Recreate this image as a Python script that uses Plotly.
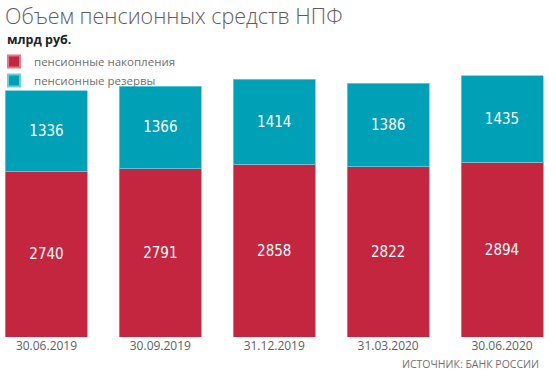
import plotly.graph_objects as go

dates = ["30.06.2019", "30.09.2019", "31.12.2019", "31.03.2020", "30.06.2020"]
nakopleniya = [2740, 2791, 2858, 2822, 2894]
rezervy = [1336, 1366, 1414, 1386, 1435]
series_names = ["пенсионные накопления", "пенсионные резервы"]
title_text = "Объем пенсионных средств НПФ"
unit_text = "млрд руб."
source_text = "ИСТОЧНИК: БАНК РОССИИ"

RED = "#C4263F"
CYAN = "#00A0B7"

W, H = 556, 380
MT, MB = 60, 43
PH = H - MT - MB


def py(y):
    return (H - MB - y) / PH


def px(x):
    return x / W


fig = go.Figure()
fig.add_trace(go.Bar(
    x=dates, y=nakopleniya, name=series_names[0],
    marker=dict(color=RED, line=dict(color="#E07A8A", width=0.8)),
    text=nakopleniya, textposition="inside", insidetextanchor="middle",
    textfont=dict(color="white", size=15, family="DejaVu Sans Condensed"),
))
fig.add_trace(go.Bar(
    x=dates, y=rezervy, name=series_names[1],
    marker=dict(color=CYAN, line=dict(color="#6CCEDC", width=0.8)),
    text=rezervy, textposition="inside", insidetextanchor="middle",
    textfont=dict(color="white", size=15, family="DejaVu Sans Condensed"),
))

fig.update_layout(
    width=W, height=H,
    barmode="stack", bargap=0.28,
    margin=dict(l=0, r=0, t=MT, b=MB, autoexpand=False),
    paper_bgcolor="white", plot_bgcolor="white",
    showlegend=True,
    legend=dict(
        x=px(-6), y=py(47), xanchor="left", yanchor="top",
        traceorder="normal", orientation="v",
        font=dict(family="Open Sans", size=11.5, color="#707070"),
        bgcolor="rgba(0,0,0,0)", itemsizing="constant",
        tracegroupgap=0,
    ),
    xaxis=dict(
        range=[-0.408, 4.474], showgrid=False, zeroline=False,
        showline=False, ticks="", automargin=False,
        tickfont=dict(family="Open Sans", size=12, color="#606060"),
        fixedrange=True,
    ),
    yaxis=dict(
        range=[0, PH / 0.06036], visible=False, showgrid=False,
        fixedrange=True, automargin=False,
    ),
    annotations=[
        dict(text=title_text, x=px(4), y=py(16), xref="paper", yref="paper",
             xanchor="left", yanchor="middle", showarrow=False, borderpad=0,
             font=dict(family="Open Sans", size=21.5, color="#5e5e5e", weight=300)),
        dict(text="<b>" + unit_text + "</b>", x=px(6), y=py(39.5), xref="paper", yref="paper",
             xanchor="left", yanchor="middle", showarrow=False, borderpad=0,
             font=dict(family="Open Sans", size=12.5, color="#222222")),
        dict(text=source_text, x=px(541), y=py(364), xref="paper", yref="paper",
             xanchor="right", yanchor="middle", showarrow=False,
             font=dict(family="Open Sans", size=10.5, color="#707070")),
    ],
)

fig.write_html("out.html", config={"displayModeBar": False},
               post_script="document.body.style.margin='0';document.body.style.overflow='hidden';")
